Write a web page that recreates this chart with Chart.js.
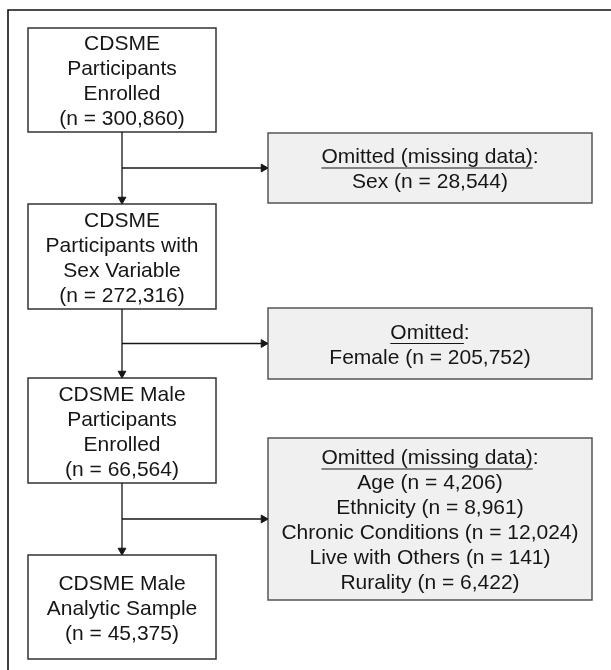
<!DOCTYPE html>
<html>
<head>
<meta charset="utf-8">
<script src="https://cdn.jsdelivr.net/npm/chart.js@4/dist/chart.umd.min.js"></script>
<style>
  html, body { margin: 0; padding: 0; background: #fff; }
  #wrap { width: 611px; height: 670px; }
</style>
</head>
<body>
<div id="wrap"><canvas id="flow" width="611" height="670"></canvas></div>
<script>
// main flow stages (left column)
const stageLabels = [
  ['CDSME', 'Participants', 'Enrolled'],
  ['CDSME', 'Participants with', 'Sex Variable'],
  ['CDSME Male', 'Participants', 'Enrolled'],
  ['CDSME Male', 'Analytic Sample']
];
const stageCounts = [300860, 272316, 66564, 45375];

// exclusions (right column)
const omitHeaders = ['Omitted (missing data)', 'Omitted', 'Omitted (missing data)'];
const omitLabels = [
  ['Sex'],
  ['Female'],
  ['Age', 'Ethnicity', 'Chronic Conditions', 'Live with Others', 'Rurality']
];
const omitCounts = [
  [28544],
  [205752],
  [4206, 8961, 12024, 141, 6422]
];

// layout (in scale units, same as px here)
const layout = {
  leftX: [28, 216],
  leftY: [[28, 132], [204, 309], [378, 483], [555, 659]],
  rightX: [268, 592],
  rightY: [[133, 203], [308, 379], [438, 600]],
  lineH: 25,
  textShift: 2,
  arrow: 4.5
};

const fmt = n => n.toLocaleString('en-US');
const FONT = "21px 'Liberation Sans', Arial, sans-serif";
const INK = '#161616';

// connectors: trunk down to next stage + branch right to omitted box
const trunkX = (layout.leftX[0] + layout.leftX[1]) / 2;
const datasets = [];
for (let i = 0; i < omitHeaders.length; i++) {
  const top = layout.leftY[i][1];
  const next = layout.leftY[i + 1][0];
  const mid = (layout.rightY[i][0] + layout.rightY[i][1]) / 2;
  datasets.push({
    data: [{ x: trunkX, y: top }, { x: trunkX, y: next - layout.arrow }],
    pointRadius: [0, layout.arrow],
    pointRotation: [0, 180]
  });
  datasets.push({
    data: [{ x: trunkX, y: mid }, { x: layout.rightX[0] - layout.arrow, y: mid }],
    pointRadius: [0, layout.arrow],
    pointRotation: [0, 90]
  });
}
datasets.forEach(d => Object.assign(d, {
  showLine: true,
  clip: false,
  borderColor: INK,
  borderWidth: 1.3,
  pointStyle: 'triangle',
  pointBackgroundColor: INK,
  pointBorderColor: INK,
  pointBorderWidth: 1,
  pointHoverRadius: 0
}));

function drawBox(ctx, sx, sy, x0, x1, y0, y1, fill, stroke) {
  const l = sx.getPixelForValue(x0), r = sx.getPixelForValue(x1);
  const t = sy.getPixelForValue(y0), b = sy.getPixelForValue(y1);
  ctx.fillStyle = fill;
  ctx.fillRect(l, t, r - l, b - t);
  ctx.strokeStyle = stroke;
  ctx.lineWidth = 1.5;
  ctx.strokeRect(l, t, r - l, b - t);
  return { cx: (l + r) / 2, cy: (t + b) / 2 };
}

function drawLines(ctx, lines, cx, cy, underlineFirst) {
  ctx.font = FONT;
  ctx.fillStyle = INK;
  ctx.textBaseline = 'middle';
  const y0 = cy + layout.textShift - (lines.length - 1) * layout.lineH / 2;
  lines.forEach((ln, k) => {
    const y = y0 + k * layout.lineH;
    if (k === 0 && underlineFirst) {
      // header: underline the words but not the colon
      const w = ctx.measureText(ln + ':').width;
      const wu = ctx.measureText(ln).width;
      const left = cx - w / 2;
      ctx.textAlign = 'left';
      ctx.fillText(ln + ':', left, y);
      ctx.strokeStyle = INK;
      ctx.lineWidth = 1.2;
      ctx.beginPath();
      ctx.moveTo(left, y + 10.5);
      ctx.lineTo(left + wu, y + 10.5);
      ctx.stroke();
    } else {
      ctx.textAlign = 'center';
      ctx.fillText(ln, cx, y);
    }
  });
}

const flowBoxes = {
  id: 'flowBoxes',
  beforeDatasetsDraw(chart) {
    const { ctx, scales: { x, y } } = chart;
    ctx.save();
    // outer frame
    ctx.strokeStyle = '#111';
    ctx.lineWidth = 1.6;
    ctx.beginPath();
    ctx.moveTo(x.getPixelForValue(8), y.getPixelForValue(680));
    ctx.lineTo(x.getPixelForValue(8), y.getPixelForValue(10));
    ctx.lineTo(x.getPixelForValue(620), y.getPixelForValue(10));
    ctx.stroke();

    stageLabels.forEach((lab, i) => {
      const c = drawBox(ctx, x, y, layout.leftX[0], layout.leftX[1],
        layout.leftY[i][0], layout.leftY[i][1], '#ffffff', '#333');
      drawLines(ctx, lab.concat('(n = ' + fmt(stageCounts[i]) + ')'), c.cx, c.cy, false);
    });
    omitHeaders.forEach((h, i) => {
      const c = drawBox(ctx, x, y, layout.rightX[0], layout.rightX[1],
        layout.rightY[i][0], layout.rightY[i][1], '#f0f0f0', '#555');
      const rows = omitLabels[i].map((l, k) => l + ' (n = ' + fmt(omitCounts[i][k]) + ')');
      drawLines(ctx, [h].concat(rows), c.cx, c.cy, true);
    });
    ctx.restore();
  }
};

new Chart(document.getElementById('flow'), {
  type: 'scatter',
  data: { datasets },
  options: {
    responsive: false,
    animation: false,
    devicePixelRatio: 1,
    layout: { padding: 0, autoPadding: false },
    plugins: { legend: { display: false }, tooltip: { enabled: false } },
    events: [],
    scales: {
      x: { type: 'linear', min: 0, max: 611, display: false },
      y: { type: 'linear', min: 0, max: 670, reverse: true, display: false }
    }
  },
  plugins: [flowBoxes]
});
</script>
</body>
</html>
